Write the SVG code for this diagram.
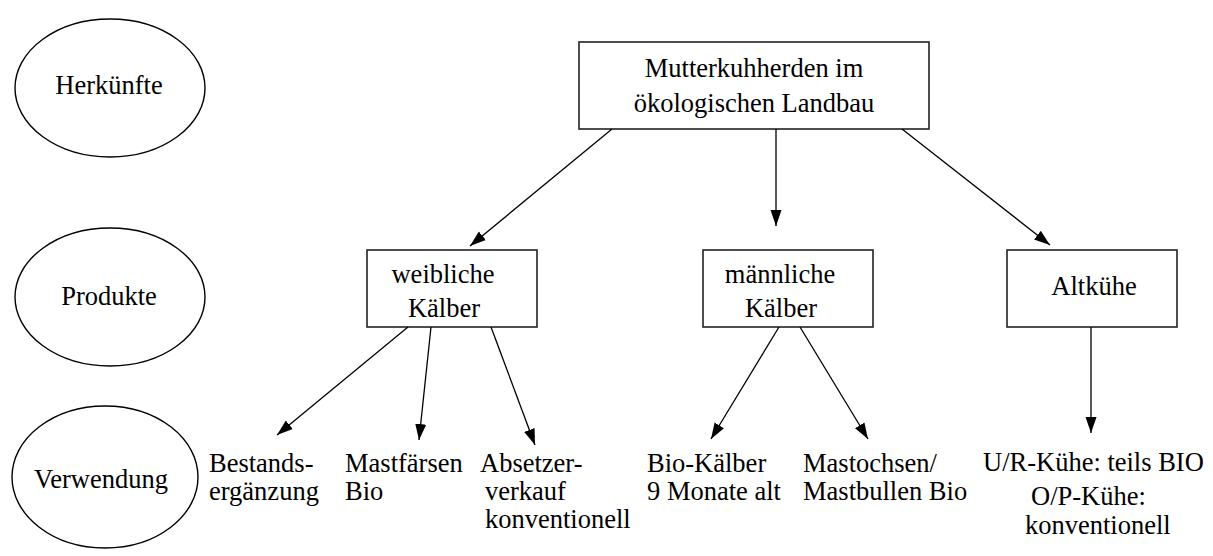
<svg xmlns="http://www.w3.org/2000/svg" width="1213" height="556" viewBox="0 0 1213 556" font-family="'Liberation Serif', 'Times New Roman', 'DejaVu Serif', serif">
  <style>
    .lvl { fill: #fff; stroke: #000; stroke-width: 1.4; }
    .box { fill: #fff; stroke: #222; stroke-width: 1.6; }
    text { font-family: 'Liberation Serif', 'Times New Roman', 'DejaVu Serif', serif; font-size: 26.5px; fill: #000; }
    .mid { text-anchor: middle; }
    .edge { stroke: #000; stroke-width: 1.3; fill: none; marker-end: url(#arrow); }
  </style>
  <defs>
    <marker id="arrow" markerUnits="userSpaceOnUse" markerWidth="17" markerHeight="12" refX="16" refY="6" orient="auto">
      <path d="M0,0.5 L16,6 L0,11.5 z" fill="#000"/>
    </marker>
  </defs>
  <rect width="1213" height="556" fill="#fff"/>

  <!-- level labels -->
  <g id="level-herkuenfte">
    <ellipse class="lvl" cx="110" cy="88" rx="95" ry="69"/>
    <text class="mid" x="109" y="94">Herkünfte</text>
  </g>
  <g id="level-produkte">
    <ellipse class="lvl" cx="110" cy="297" rx="95" ry="69"/>
    <text class="mid" x="109" y="305">Produkte</text>
  </g>
  <g id="level-verwendung">
    <ellipse class="lvl" cx="105" cy="477" rx="93" ry="71"/>
    <text class="mid" x="101" y="488">Verwendung</text>
  </g>

  <!-- origin -->
  <g id="node-mutterkuh">
    <rect class="box" x="579" y="42" width="350" height="87"/>
    <text class="mid" x="754" y="77">Mutterkuhherden im</text>
    <text class="mid" x="754" y="112">ökologischen Landbau</text>
  </g>

  <!-- products -->
  <g id="node-weibliche">
    <rect class="box" x="367" y="250" width="170" height="77"/>
    <text class="mid" x="443" y="283">weibliche</text>
    <text class="mid" x="444" y="317">Kälber</text>
  </g>
  <g id="node-maennliche">
    <rect class="box" x="703" y="250" width="170" height="77"/>
    <text class="mid" x="780" y="283">männliche</text>
    <text class="mid" x="781" y="317">Kälber</text>
  </g>
  <g id="node-altkuehe">
    <rect class="box" x="1007" y="250" width="170" height="77"/>
    <text class="mid" x="1094" y="295">Altkühe</text>
  </g>

  <!-- uses -->
  <g id="use-bestand">
    <text x="209" y="472">Bestands-</text>
    <text x="209" y="500">ergänzung</text>
  </g>
  <g id="use-mastfaersen">
    <text x="345" y="472">Mastfärsen</text>
    <text x="345" y="500">Bio</text>
  </g>
  <g id="use-absetzer">
    <text x="480" y="472">Absetzer-</text>
    <text x="485" y="500">verkauf</text>
    <text x="485" y="528">konventionell</text>
  </g>
  <g id="use-biokaelber">
    <text x="647" y="472">Bio-Kälber</text>
    <text x="647" y="500">9 Monate alt</text>
  </g>
  <g id="use-mastochsen">
    <text x="803" y="472">Mastochsen/</text>
    <text x="803" y="500">Mastbullen Bio</text>
  </g>
  <g id="use-altkuehe">
    <text x="983" y="471">U/R-Kühe: teils BIO</text>
    <text x="1031" y="505">O/P-Kühe:</text>
    <text x="1025" y="534">konventionell</text>
  </g>

  <!-- connectors -->
  <g id="connectors">
    <line class="edge" x1="612" y1="129" x2="470" y2="246"/>
    <line class="edge" x1="776" y1="129" x2="776" y2="226"/>
    <line class="edge" x1="902" y1="129" x2="1050" y2="245"/>
    <line class="edge" x1="408" y1="327" x2="277" y2="435"/>
    <line class="edge" x1="431" y1="327" x2="419" y2="440"/>
    <line class="edge" x1="491" y1="327" x2="535" y2="445"/>
    <line class="edge" x1="779" y1="327" x2="711" y2="439"/>
    <line class="edge" x1="800" y1="327" x2="868" y2="439"/>
    <line class="edge" x1="1091" y1="327" x2="1091" y2="433"/>
  </g>
</svg>
